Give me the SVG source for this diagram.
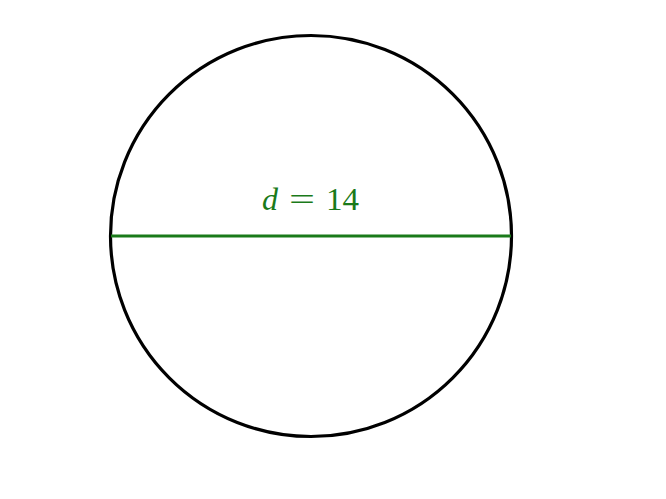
<svg xmlns="http://www.w3.org/2000/svg" width="666" height="499" viewBox="0 0 666 499">
<style>
.lbl{font-family:"Liberation Serif","DejaVu Serif",serif;font-size:32px;fill:#1a7a1a}
</style>
<rect width="666" height="499" fill="#fff"/>
<g id="circle"><circle cx="311" cy="236" r="200.5" fill="none" stroke="#000" stroke-width="3.2"/></g>
<g id="connectors"><line x1="111" y1="236" x2="511" y2="236" stroke="#1a7a1a" stroke-width="3.2"/></g>
<g id="label">
<text class="lbl" x="262" y="210" font-style="italic">d</text>
<text class="lbl" x="289" y="210" font-size="34" textLength="26" lengthAdjust="spacingAndGlyphs">=</text>
<text class="lbl" x="326" y="210" textLength="33" lengthAdjust="spacingAndGlyphs">14</text>
</g>
</svg>
